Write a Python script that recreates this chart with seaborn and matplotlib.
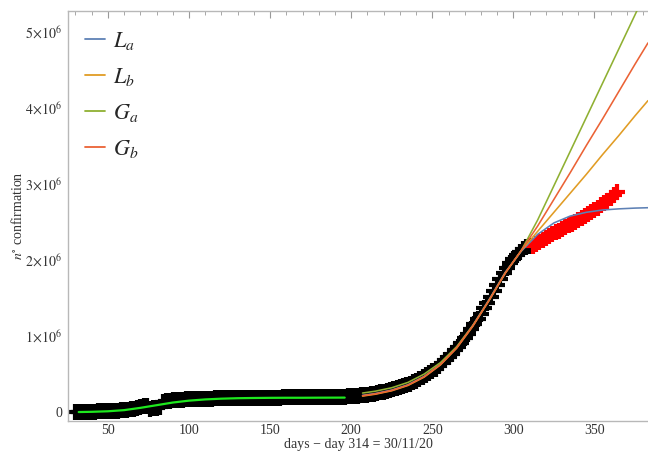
import numpy as np
import pandas as pd
import matplotlib
matplotlib.use("Agg")
import matplotlib.pyplot as plt
from matplotlib.ticker import MultipleLocator, FuncFormatter
import seaborn as sns

# Cumulative confirmed cases (thousands), sampled every two days
obs_days = list(range(30, 312, 2))
obs_k = [
    0, 2, 3, 4, 5, 6, 7, 8, 9, 10,
    12, 14, 16, 19, 22, 26, 31, 37, 45, 54,
    64, 78, 86, 45, 48, 52, 60, 138, 146, 151,
    155, 158, 161, 164, 166, 168, 170, 172, 174, 175,
    176, 177, 178, 179, 180, 181, 182, 183, 183, 184,
    185, 185, 186, 186, 187, 187, 188, 188, 189, 189,
    190, 190, 191, 191, 192, 192, 193, 193, 194, 194,
    195, 195, 196, 196, 197, 197, 198, 199, 199, 200,
    201, 202, 203, 204, 206, 208, 211, 214, 218, 223,
    229, 236, 243, 251, 259, 268, 278, 289, 300, 313,
    327, 341, 356, 372, 392, 415, 437, 460, 485, 512,
    541, 572, 606, 642, 680, 720, 765, 812, 862, 915,
    970, 1030, 1092, 1158, 1226, 1296, 1368, 1442, 1518, 1596,
    1674, 1750, 1824, 1894, 1960, 2020, 2070, 2110, 2145, 2170,
    2190,
]

# Later observations (thousands)
new_days = list(range(312, 366, 2))
new_k = [2190, 2215, 2240, 2265, 2290, 2315, 2340, 2365, 2385, 2410,
         2435, 2460, 2480, 2505, 2530, 2555, 2580, 2605, 2630, 2660,
         2690, 2720, 2750, 2785, 2820, 2860, 2900]

# First-wave fit (thousands)
wave1_days = [32, 40, 50, 60, 70, 80, 90, 100, 110, 120, 130, 140, 150, 160, 170, 180, 196]
wave1_k = [0, 3, 10, 25, 55, 90, 125, 150, 166, 176, 182, 185, 187, 188, 188, 189, 190]

# Second-wave model curves (thousands)
fit_days = [207, 215, 225, 235, 245, 255, 265, 275, 285, 295, 305,
            315, 325, 335, 345, 355, 365, 375, 383]
La_k = [220, 245, 290, 360, 470, 630, 850, 1140, 1480, 1840, 2120,
        2340, 2490, 2580, 2630, 2660, 2675, 2685, 2690]
Lb_k = [210, 235, 280, 350, 460, 620, 840, 1130, 1470, 1830, 2130,
        2380, 2630, 2880, 3130, 3390, 3640, 3900, 4100]
Ga_k = [250, 275, 320, 390, 500, 650, 860, 1140, 1470, 1830, 2130,
        2530, 2980, 3430, 3880, 4330, 4780, 5230, 5590]
Gb_k = [215, 240, 285, 355, 465, 625, 845, 1135, 1470, 1830, 2130,
        2450, 2800, 3150, 3510, 3860, 4220, 4580, 4860]

labels = ["$L_a$", "$L_b$", "$G_a$", "$G_b$"]
colors = ["#5e81b5", "#e19c24", "#8fb032", "#eb6235"]

sns.set_style("white")
plt.rcParams["font.family"] = ["Liberation Serif", "DejaVu Serif"]
plt.rcParams["mathtext.fontset"] = "stix"

fig = plt.figure(figsize=(6.48, 4.54), dpi=100)
ax = fig.add_axes([68 / 648, 33 / 454, 580 / 648, 410 / 454])

obs = pd.DataFrame({"day": obs_days, "n": np.array(obs_k) * 1e3})
new = pd.DataFrame({"day": new_days, "n": np.array(new_k) * 1e3})
wave1 = pd.DataFrame({"day": wave1_days, "n": np.array(wave1_k) * 1e3})

sns.scatterplot(data=obs, x="day", y="n", marker="+", s=125, color="black",
                linewidth=3, ax=ax, zorder=2)
sns.scatterplot(data=new, x="day", y="n", marker="+", s=125, color="#ff0000",
                linewidth=3, ax=ax, zorder=2)
sns.lineplot(data=wave1, x="day", y="n", color="#1ee81e", linewidth=1.6,
             ax=ax, zorder=3)

for vals, lab, col in zip([La_k, Lb_k, Ga_k, Gb_k], labels, colors):
    d = pd.DataFrame({"day": fit_days, "n": np.array(vals) * 1e3})
    sns.lineplot(data=d, x="day", y="n", color=col, linewidth=1.15,
                 label=lab, ax=ax, zorder=4)

ax.set_xlim(25.4, 383)
ax.set_ylim(-0.118e6, 5.28e6)

ax.xaxis.set_major_locator(MultipleLocator(50))
ax.xaxis.set_minor_locator(MultipleLocator(10))
ax.yaxis.set_major_locator(MultipleLocator(1e6))
ax.yaxis.set_minor_locator(MultipleLocator(2e5))


def sci(v, pos):
    k = int(round(v / 1e6))
    if k == 0:
        return "0"
    return r"$%d\!\times\!10^{6}$" % k


ax.yaxis.set_major_formatter(FuncFormatter(sci))

spine_col = "#b8b8b8"
for side in ["left", "bottom", "top"]:
    ax.spines[side].set_color(spine_col)
    ax.spines[side].set_linewidth(1.0)
ax.spines["right"].set_visible(False)

ax.tick_params(axis="both", which="both", direction="in", color="#999999",
               labelsize=10, labelcolor="#333333", top=True)
ax.tick_params(axis="both", which="major", length=5, width=0.8)
ax.tick_params(axis="both", which="minor", length=3, width=0.6)
ax.tick_params(axis="x", pad=2)
ax.tick_params(axis="y", pad=4)

ax.set_xlabel("days \u2212 day 314 = 30/11/20", fontsize=10, color="#333333", labelpad=1)
ax.set_ylabel(r"$n^{\circ}$ confirmation", fontsize=10, color="#333333", labelpad=0)

leg = ax.legend(loc="upper left", bbox_to_anchor=(0.029, 0.953), frameon=False,
                fontsize=16, handlelength=0.9, handletextpad=0.35,
                labelspacing=0.62, borderaxespad=0.0, borderpad=0.0)
for line in leg.get_lines():
    line.set_linewidth(1.3)

fig.savefig("out.png", dpi=100)
